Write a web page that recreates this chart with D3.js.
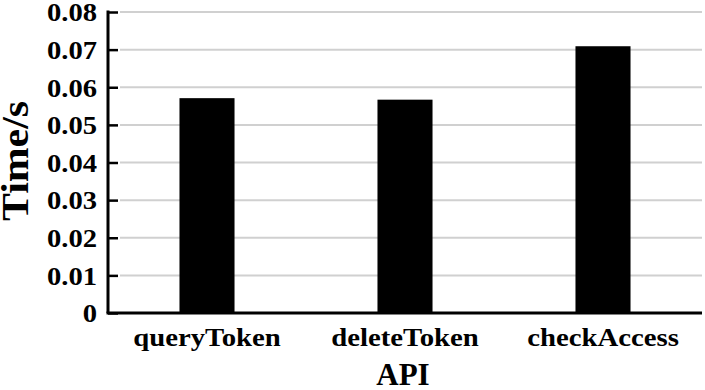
<!DOCTYPE html>
<html>
  <head>
    <meta charset="UTF-8" />
    <script src="https://d3js.org/d3.v7.min.js"></script>
    <style>
      body { margin: 0; background: #fff; }
      text { font-family: "Liberation Serif", "Times New Roman", serif; font-weight: bold; fill: #000; }
    </style>
  </head>
  <body>
    <div id="chart"></div>

    <script>
      // data
      var apis = ["queryToken", "deleteToken", "checkAccess"];
      var times = [0.0571, 0.0567, 0.0709];
      var yTicks = [0, 0.01, 0.02, 0.03, 0.04, 0.05, 0.06, 0.07, 0.08];
      var yTickLabels = ["0", "0.01", "0.02", "0.03", "0.04", "0.05", "0.06", "0.07", "0.08"];

      var margin = { top: 12, right: 3, bottom: 77, left: 108 },
        width = 705 - margin.left - margin.right,
        height = 390 - margin.top - margin.bottom;

      var svg = d3
        .select("#chart")
        .append("svg")
        .attr("width", 705)
        .attr("height", 390);

      var g = svg
        .append("g")
        .attr("transform", "translate(" + margin.left + "," + margin.top + ")");

      var x = d3.scaleBand().domain(apis).range([0, width]).padding(0);
      var y = d3.scaleLinear().domain([0, 0.08]).range([height, 0]);
      var barW = x.bandwidth() * 0.278;

      // the original text is a bit wider than the font, stretch it
      function stretch(sel, f) {
        sel.each(function () {
          var w = this.getComputedTextLength();
          d3.select(this).attr("textLength", w * f).attr("lengthAdjust", "spacingAndGlyphs");
        });
      }

      // gridlines
      g.append("g")
        .selectAll("line")
        .data(yTicks.slice(1))
        .join("line")
        .attr("x1", 12)
        .attr("x2", width)
        .attr("y1", (d) => y(d))
        .attr("y2", (d) => y(d))
        .attr("stroke", "#d0d0d0")
        .attr("stroke-width", 2);

      // bars
      g.append("g")
        .selectAll("rect")
        .data(times)
        .join("rect")
        .attr("x", (d, i) => x(apis[i]) + x.bandwidth() / 2 - barW / 2)
        .attr("y", (d) => y(d))
        .attr("width", barW)
        .attr("height", (d) => height - y(d))
        .attr("fill", "#000");

      // y axis, ticks pointing inward
      var yAxis = g
        .append("g")
        .call(
          d3
            .axisLeft(y)
            .tickValues(yTicks)
            .tickFormat((d, i) => yTickLabels[i])
            .tickSize(-10)
            .tickPadding(11)
        );
      yAxis.select(".domain").attr("stroke", "#000").attr("stroke-width", 3).attr("d", "M0," + height + "V-1.5");
      yAxis.selectAll(".tick line").attr("stroke", "#000").attr("stroke-width", 2.5);
      yAxis.selectAll(".tick text").style("font-size", "26px").attr("dy", "0.34em").call(stretch, 1.1);

      // x axis
      var xAxis = g
        .append("g")
        .attr("transform", "translate(0," + height + ")")
        .call(d3.axisBottom(x).tickSize(0).tickPadding(15));
      xAxis.select(".domain").attr("stroke", "#000").attr("stroke-width", 3).attr("d", "M-1.5,0H" + width);
      xAxis.selectAll(".tick text").style("font-size", "25px").attr("dy", "0.71em").call(stretch, 1.15);

      // axis titles
      svg
        .append("text")
        .attr("transform", "translate(28," + 161 + ") rotate(-90)")
        .attr("text-anchor", "middle")
        .style("font-size", "37px")
        .text("Time/s")
        .call(stretch, 1.13);

      svg
        .append("text")
        .attr("x", 403)
        .attr("y", 385)
        .attr("text-anchor", "middle")
        .style("font-size", "31px")
        .text("API");
    </script>
  </body>
</html>
